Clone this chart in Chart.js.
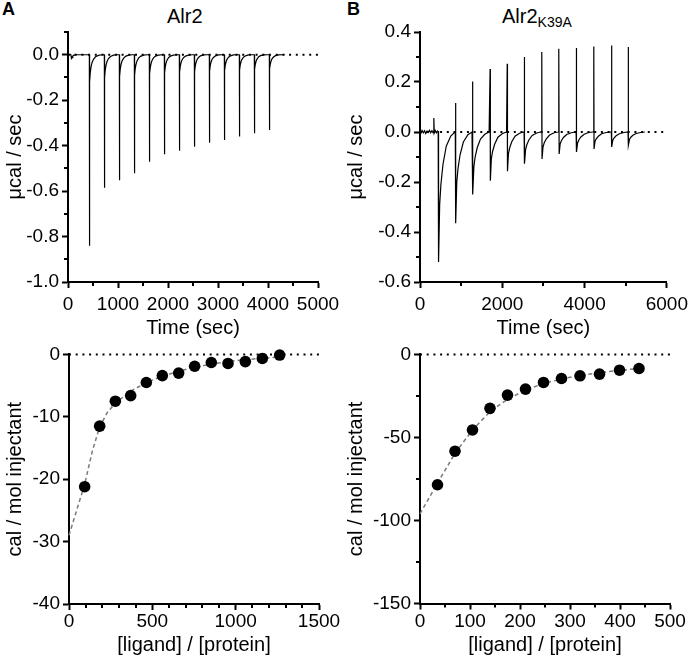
<!DOCTYPE html>
<html><head><meta charset="utf-8">
<script src="https://cdn.jsdelivr.net/npm/chart.js@4.4.1/dist/chart.umd.min.js"></script>
<style>
html,body{margin:0;padding:0;background:#fff;}
body{width:693px;height:667px;position:relative;overflow:hidden;font-family:"Liberation Sans",Arial,sans-serif;}
canvas{position:absolute;}
.lbl{position:absolute;font-weight:bold;font-size:18px;line-height:18px;color:#000;}
.ttl{position:absolute;font-size:20px;line-height:20px;color:#000;white-space:nowrap;}
.ttl sub{font-size:14px;vertical-align:baseline;position:relative;top:4px;}
</style></head><body>
<div class="lbl" style="left:2px;top:0px">A</div>
<div class="lbl" style="left:347px;top:0px">B</div>
<div class="ttl" style="left:167px;top:6px">Alr2</div>
<div class="ttl" style="left:502px;top:6px">Alr2<sub>K39A</sub></div>
<canvas id="c1" width="346" height="340" style="left:0;top:0"></canvas>
<canvas id="c2" width="349" height="340" style="left:344px;top:0"></canvas>
<canvas id="c3" width="346" height="327" style="left:0;top:340px"></canvas>
<canvas id="c4" width="349" height="327" style="left:344px;top:340px"></canvas>
<script>
// ---------- Panel A (top): raw ITC trace, Alr2 ----------
const timeTicksA = [0,1000,2000,3000,4000,5000];
const timeMinorA = [500,1500,2500,3500,4500];
const rateTicksA = [0,-0.2,-0.4,-0.6,-0.8,-1.0];
const rateMinorA = [0.1,-0.1,-0.3,-0.5,-0.7,-0.9];
const preA = [[30,0.002],[55,0.001],[62,-0.006],[70,-0.016],[80,-0.013],[95,-0.006],[120,-0.002],[160,0]];
const injA = [430,730,1030,1330,1630,1930,2230,2530,2830,3130,3430,3730,4030];
const peakA = [-0.84,-0.585,-0.552,-0.522,-0.471,-0.438,-0.422,-0.405,-0.387,-0.375,-0.36,-0.346,-0.331];
const recOffA = [3,15,30,50,80,120,180,250];
const recA = [
  [-0.12,-0.08,-0.055,-0.035,-0.02,-0.009,-0.003,0],
  [-0.1,-0.068,-0.047,-0.03,-0.017,-0.008,-0.002,0],
  [-0.095,-0.064,-0.044,-0.028,-0.016,-0.007,-0.002,0],
  [-0.09,-0.06,-0.042,-0.027,-0.015,-0.007,-0.002,0],
  [-0.085,-0.057,-0.04,-0.025,-0.014,-0.006,-0.002,0],
  [-0.08,-0.054,-0.037,-0.024,-0.013,-0.006,-0.002,0],
  [-0.078,-0.052,-0.036,-0.023,-0.013,-0.006,-0.002,0],
  [-0.075,-0.05,-0.035,-0.022,-0.012,-0.005,-0.001,0],
  [-0.072,-0.048,-0.033,-0.021,-0.012,-0.005,-0.001,0],
  [-0.07,-0.047,-0.032,-0.02,-0.011,-0.005,-0.001,0],
  [-0.068,-0.045,-0.031,-0.02,-0.011,-0.005,-0.001,0],
  [-0.065,-0.043,-0.03,-0.019,-0.01,-0.004,-0.001,0],
  [-0.063,-0.042,-0.029,-0.018,-0.01,-0.004,-0.001,0]
];
const endA = [[4334,0]];

// ---------- Panel B (top): raw ITC trace, Alr2 K39A ----------
const timeTicksB = [0,2000,4000,6000];
const timeMinorB = [1000,3000,5000];
const rateTicksB = [0.4,0.2,0,-0.2,-0.4,-0.6];
const rateMinorB = [0.3,0.1,-0.1,-0.3,-0.5];
const preB = [[0,0.002],[25,-0.004],[50,0.006],[80,-0.003],[110,0.005],[140,-0.006],[170,0.004],[200,-0.002],[230,0.007],[260,-0.003],[290,0.005],[320,-0.004],[334,0.002],[340,0.056],[346,-0.004],[370,0.006],[400,-0.003],[425,0.004]];
const injB = [448,864,1280,1704,2120,2536,2960,3376,3800,4224,4656,5064];
const upB = [0.004,0.116,0.202,0.252,0.273,0.30,0.32,0.333,0.336,0.342,0.346,0.34];
const downB = [-0.52,-0.365,-0.25,-0.195,-0.157,-0.127,-0.108,-0.088,-0.08,-0.068,-0.06,-0.053];
const recOffB = [30,60,110,190,300,400];
const recB = [
  [-0.29,-0.21,-0.13,-0.057,-0.016,0],
  [-0.2,-0.146,-0.091,-0.04,-0.011,0],
  [-0.138,-0.1,-0.063,-0.028,-0.008,0],
  [-0.107,-0.078,-0.049,-0.021,-0.006,0],
  [-0.086,-0.063,-0.039,-0.017,-0.005,0],
  [-0.07,-0.051,-0.032,-0.014,-0.004,0],
  [-0.059,-0.043,-0.027,-0.012,-0.003,0],
  [-0.048,-0.035,-0.022,-0.01,-0.003,0],
  [-0.044,-0.032,-0.02,-0.009,-0.002,0],
  [-0.037,-0.027,-0.017,-0.007,-0.002,0],
  [-0.033,-0.024,-0.015,-0.007,-0.002,0],
  [-0.029,-0.021,-0.013,-0.006,-0.002,0]
];

// ---------- Panel A (bottom): integrated heats, Alr2 ----------
const ratioTicksA = [0,500,1000,1500];
const ratioMinorA = [100,200,300,400,600,700,800,900,1100,1200,1300,1400];
const heatTicksA = [0,-10,-20,-30,-40];
const ratioA = [94,184,278,370,464,560,658,754,854,954,1058,1160,1264];
const heatA = [-21.2,-11.5,-7.5,-6.6,-4.5,-3.4,-3.0,-1.9,-1.3,-1.45,-1.15,-0.65,-0.1];
const fitRatioA = [0,94,140,184,230,278,370,464,560,658,754,854,954,1058,1160,1264];
const fitHeatA = [-29,-20.8,-15.5,-11.6,-9.3,-7.8,-5.9,-4.5,-3.5,-2.7,-2.05,-1.55,-1.15,-0.85,-0.6,-0.4];

// ---------- Panel B (bottom): integrated heats, Alr2 K39A ----------
const ratioTicksB = [0,100,200,300,400,500];
const ratioMinorB = [50,150,250,350,450];
const heatTicksB = [0,-50,-100,-150];
const heatMinorB = [-25,-75,-125];
const ratioB = [35,70,105,140,175,211,247,283,320,359,399,438];
const heatB = [-78.5,-58.3,-45.5,-32.5,-24.5,-20.9,-16.9,-14.5,-12.9,-11.9,-9.5,-8.5];
const fitRatioB = [0,35,70,105,140,175,211,247,283,320,359,399,438];
const fitHeatB = [-96,-77.5,-59.5,-45.5,-34.5,-27,-21.5,-17.5,-14.8,-12.7,-11,-9.6,-8.5];

// ---------- build point lists from the read values ----------
function buildTraceA(){
  const pts = preA.map(p=>({x:p[0],y:p[1]}));
  injA.forEach((t,k)=>{
    pts.push({x:t-3,y:0});
    pts.push({x:t,y:peakA[k]});
    recOffA.forEach((o,i)=>pts.push({x:t+o,y:recA[k][i]}));
  });
  endA.forEach(p=>pts.push({x:p[0],y:p[1]}));
  return pts;
}
function buildTraceB(){
  const pts = preB.map(p=>({x:p[0],y:p[1]}));
  injB.forEach((t,k)=>{
    pts.push({x:t-6,y:0});
    pts.push({x:t,y:upB[k]});
    pts.push({x:t+6,y:downB[k]});
    recOffB.forEach((o,i)=>pts.push({x:t+o,y:recB[k][i]}));
  });
  return pts;
}
const zip = (xs,ys)=>xs.map((x,i)=>({x:x,y:ys[i]}));

const FAM = "'Liberation Sans', Arial, sans-serif";
const TICKFONT = {family:FAM, size:19};
const TITLEFONT = {family:FAM, size:20};

function panel(id,o){
  const minor = {
    id:'minor'+id,
    afterDraw(chart){
      const ctx=chart.ctx, ca=chart.chartArea, sx=chart.scales.x, sy=chart.scales.y;
      ctx.save(); ctx.strokeStyle='#000'; ctx.lineWidth=2;
      (o.xMinor||[]).forEach(v=>{const p=Math.round(sx.getPixelForValue(v));ctx.beginPath();ctx.moveTo(p,ca.bottom);ctx.lineTo(p,ca.bottom+4);ctx.stroke();});
      (o.yMinor||[]).forEach(v=>{const p=Math.round(sy.getPixelForValue(v));ctx.beginPath();ctx.moveTo(ca.left-4,p);ctx.lineTo(ca.left,p);ctx.stroke();});
      ctx.restore();
    }
  };
  const axis = (min,max,ticks,fmt,title,titlePad,tickPad,fitFn)=>({
    type:'linear',min:min,max:max,
    afterBuildTicks:s=>{s.ticks=ticks.map(v=>({value:v}));},
    afterFit:fitFn,
    grid:{display:true,drawOnChartArea:false,drawTicks:true,tickLength:6,tickWidth:2,tickColor:'#000'},
    border:{display:true,width:2,color:'#000'},
    ticks:{color:'#000',font:TICKFONT,padding:tickPad,maxRotation:0,autoSkip:false,callback:fmt},
    title:{display:true,text:title,color:'#000',font:TITLEFONT,padding:titlePad}
  });
  return new Chart(document.getElementById(id),{
    type:'scatter',
    data:{datasets:o.datasets},
    options:{
      responsive:false,animation:false,devicePixelRatio:1,events:[],
      layout:{padding:o.pad},
      plugins:{legend:{display:false},tooltip:{enabled:false}},
      scales:{
        x:axis(o.xMin,o.xMax,o.xTicks,o.xFmt,o.xTitle,{top:0,bottom:o.xTitlePad},o.xTickPad,s=>{s.height=o.xH;}),
        y:axis(o.yMin,o.yMax,o.yTicks,o.yFmt,o.yTitle,{top:o.yTitlePad,bottom:0},3,s=>{s.width=o.yW;})
      }
    },
    plugins:[minor]
  });
}
const traceDs = pts=>({data:pts,showLine:true,borderColor:'#000',borderWidth:1.2,pointRadius:0,clip:false});
const zeroDs = (x0,x1)=>({data:[{x:x0,y:0},{x:x1,y:0}],showLine:true,borderColor:'#000',borderWidth:2,borderDash:[2,4.7],pointRadius:0,clip:false});
const fitDs = pts=>({data:pts,showLine:true,borderColor:'#7a7a7a',borderWidth:1.5,borderDash:[4,3],pointRadius:0,clip:false});
const dotDs = pts=>({data:pts,showLine:false,pointRadius:5.8,pointBackgroundColor:'#000',pointBorderWidth:0,pointBorderColor:'#000',clip:false});
const f1 = v=>v.toFixed(1);
const f0 = v=>String(v);

panel('c1',{
  datasets:[traceDs(buildTraceA()),zeroDs(0,5000)],
  pad:{left:0,top:32,right:28,bottom:0},
  xMin:0,xMax:5000,xTicks:timeTicksA,xMinor:timeMinorA,xFmt:f0,xTitle:'Time (sec)',xTitlePad:0,xTickPad:5,xH:58,
  yMin:-1.0,yMax:0.1,yTicks:rateTicksA,yMinor:rateMinorA,yFmt:f1,yTitle:'\u03bccal / sec',yTitlePad:3,yW:68
});
panel('c2',{
  datasets:[traceDs(buildTraceB()),zeroDs(0,6000)],
  pad:{left:0,top:32,right:23,bottom:0},
  xMin:0,xMax:6000,xTicks:timeTicksB,xMinor:timeMinorB,xFmt:f0,xTitle:'Time (sec)',xTitlePad:0,xTickPad:5,xH:58,
  yMin:-0.6,yMax:0.4,yTicks:rateTicksB,yMinor:rateMinorB,yFmt:f1,yTitle:'\u03bccal / sec',yTitlePad:0,yW:76
});
panel('c3',{
  datasets:[dotDs(zip(ratioA,heatA)),fitDs(zip(fitRatioA,fitHeatA)),zeroDs(0,1500)],
  pad:{left:0,top:14,right:27,bottom:0},
  xMin:0,xMax:1500,xTicks:ratioTicksA,xMinor:ratioMinorA,xFmt:f0,xTitle:'[ligand] / [protein]',xTitlePad:10,xTickPad:0,xH:63,
  yMin:-40,yMax:0,yTicks:heatTicksA,yMinor:[],yFmt:f0,yTitle:'cal / mol injectant',yTitlePad:3,yW:69
});
panel('c4',{
  datasets:[dotDs(zip(ratioB,heatB)),fitDs(zip(fitRatioB,fitHeatB)),zeroDs(0,500)],
  pad:{left:0,top:13.5,right:23,bottom:0},
  xMin:0,xMax:500,xTicks:ratioTicksB,xMinor:ratioMinorB,xFmt:f0,xTitle:'[ligand] / [protein]',xTitlePad:10,xTickPad:1,xH:63.5,
  yMin:-150,yMax:0,yTicks:heatTicksB,yMinor:heatMinorB,yFmt:f0,yTitle:'cal / mol injectant',yTitlePad:0,yW:76
});
</script>
</body></html>
